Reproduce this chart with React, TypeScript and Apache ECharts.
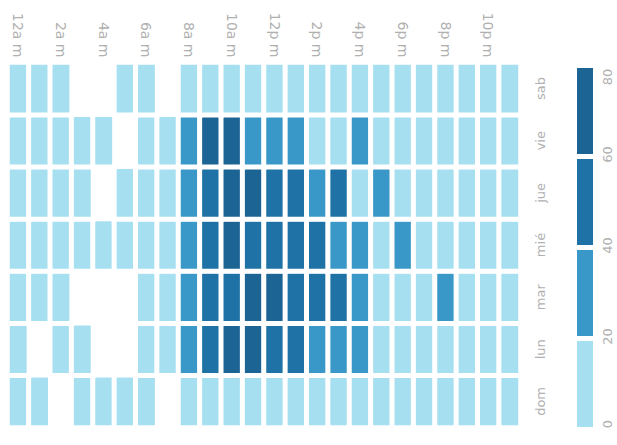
import React, { useEffect, useRef } from 'react';
import * as echarts from 'echarts';

const hours = [
  '12a m', '1a m', '2a m', '3a m', '4a m', '5a m', '6a m', '7a m', '8a m', '9a m', '10a m', '11a m',
  '12p m', '1p m', '2p m', '3p m', '4p m', '5p m', '6p m', '7p m', '8p m', '9p m', '10p m', '11p m',
];
const days = ['dom', 'lun', 'mar', 'mié', 'jue', 'vie', 'sab'];

const dom = [8, 6, null, 5, 4, 6, 7, null, 9, 11, 12, 13, 12, 11, 10, 9, 8, 9, 10, 8, 7, 9, 8, 6];
const lun = [7, null, 5, 4, null, null, 9, 12, 32, 55, 66, 68, 54, 52, 34, 30, 28, 14, 12, 11, 10, 9, 8, 7];
const mar = [8, 6, 5, null, null, null, 10, 14, 30, 52, 56, 64, 65, 58, 50, 48, 36, 15, 13, 12, 33, 10, 9, 8];
const mie = [9, 7, 6, 5, 4, 6, 11, 15, 33, 54, 62, 56, 55, 52, 48, 38, 34, 16, 28, 13, 12, 11, 10, 9];
const jue = [8, 7, 6, 5, null, 6, 10, 14, 35, 55, 63, 66, 54, 52, 36, 48, 15, 32, 14, 12, 11, 10, 9, 8];
const vie = [9, 8, 6, 5, 4, null, 11, 15, 36, 68, 65, 38, 34, 33, 16, 14, 35, 13, 12, 11, 10, 9, 8, 7];
const sab = [10, 9, 7, null, null, 6, 8, null, 12, 13, 14, 15, 14, 13, 12, 11, 10, 11, 12, 13, 12, 11, 10, 9];

const legendTicks = [0, 20, 40, 60, 80];
const pieceColors = ['#a6dff0', '#3a98c8', '#1f72a6', '#1b6494'];

export default function App() {
  const ref = useRef<HTMLDivElement>(null);
  useEffect(() => {
    document.body.style.margin = '0';
    const chart = echarts.init(ref.current!, null, { renderer: 'svg' });
    const rows = [dom, lun, mar, mie, jue, vie, sab];
    const data: any[] = [];
    rows.forEach((r, yi) =>
      r.forEach((v, xi) => {
        if (v != null) data.push([xi, yi, v]);
      })
    );
    const pieces = legendTicks.slice(0, -1).map((t, i) => ({
      min: t,
      max: legendTicks[i + 1],
      color: pieceColors[i],
    }));
    const legTop = 68;
    const itemH = 86;
    const gap = 5;
    const maxV = legendTicks[legendTicks.length - 1];
    const step = legendTicks[1] - legendTicks[0];
    const legBottom = legTop + (legendTicks.length - 1) * itemH + (legendTicks.length - 2) * gap;
    const labelGraphics = legendTicks.map((v) => {
      const k = (maxV - v) / step;
      let y = legTop + k * itemH + (k - 0.5) * gap;
      y = y - 2;
      y = Math.max(legTop + 9, Math.min(legBottom - 3, y));
      return {
        type: 'text',
        x: 607,
        y,
        rotation: Math.PI / 2,
        style: {
          text: String(v),
          fill: '#b0b0b0',
          fontSize: 13,
          fontFamily: 'DejaVu Sans',
          align: 'center',
          verticalAlign: 'middle',
        },
      };
    });
    const labelFont = { color: '#b0b0b0', fontFamily: 'DejaVu Sans' };
    chart.setOption({
      animation: false,
      grid: { left: 7.5, top: 62.5, width: 513, height: 365 },
      xAxis: {
        type: 'category',
        position: 'top',
        data: hours,
        axisLine: { show: false },
        axisTick: { show: false },
        splitArea: { show: false },
        axisLabel: { ...labelFont, fontSize: 14, interval: 1, rotate: 90, margin: 5 },
      },
      yAxis: {
        type: 'category',
        position: 'right',
        data: days,
        axisLine: { show: false },
        axisTick: { show: false },
        axisLabel: { ...labelFont, fontSize: 13, rotate: 90, margin: 13 },
      },
      visualMap: {
        type: 'piecewise',
        orient: 'vertical',
        left: 577,
        top: legTop,
        padding: 0,
        itemWidth: 16,
        itemHeight: itemH,
        itemGap: gap,
        itemSymbol: 'rect',
        showLabel: false,
        selectedMode: false,
        pieces,
      },
      graphic: labelGraphics,
      series: [
        {
          type: 'heatmap',
          data,
          itemStyle: { borderColor: '#ffffff', borderWidth: 5 },
          emphasis: { disabled: true },
        },
      ],
    });
    return () => chart.dispose();
  }, []);
  return <div ref={ref} style={{ width: 617, height: 445 }} />;
}
